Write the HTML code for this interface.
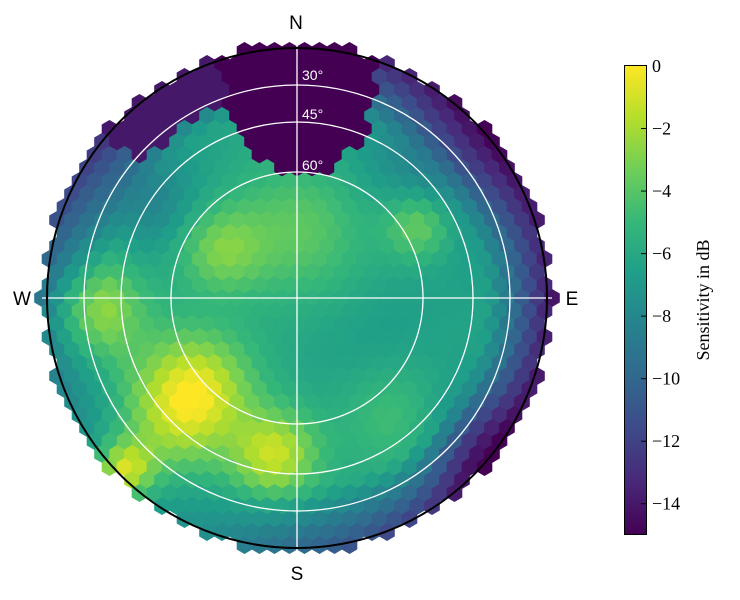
<!DOCTYPE html>
<html><head><meta charset="utf-8"><style>
body{margin:0;background:#fff}
svg{display:block}
</style></head><body>
<svg id="s" width="740" height="600" xmlns="http://www.w3.org/2000/svg">
<defs>
<linearGradient id="vg" x1="0" y1="1" x2="0" y2="0">
<stop offset="0" stop-color="#440154"/><stop offset="0.111" stop-color="#482878"/><stop offset="0.222" stop-color="#3e4989"/><stop offset="0.333" stop-color="#31688e"/><stop offset="0.444" stop-color="#26828e"/><stop offset="0.555" stop-color="#1f9e89"/><stop offset="0.666" stop-color="#35b779"/><stop offset="0.777" stop-color="#6ece58"/><stop offset="0.888" stop-color="#b5de2b"/><stop offset="1" stop-color="#fde725"/>
</linearGradient>
</defs>
<g id="hex"></g>
<g fill="none" stroke="#fff" stroke-width="1.3">
<circle cx="297" cy="298" r="126"/><circle cx="297" cy="298" r="176"/><circle cx="297" cy="298" r="213"/>
<line x1="42" y1="298" x2="552" y2="298"/><line x1="297" y1="44" x2="297" y2="552"/>
</g>
<circle cx="297" cy="298" r="250" fill="none" stroke="#000" stroke-width="2"/>
<g font-family="Liberation Sans, sans-serif" font-size="14" fill="#fff">
<text x="302" y="80">30°</text><text x="302" y="119">45°</text><text x="302" y="170">60°</text>
</g>
<g font-family="Liberation Sans, sans-serif" font-size="19" fill="#000" text-anchor="middle">
<text x="296" y="29">N</text><text x="297" y="580">S</text><text x="22" y="305">W</text><text x="572" y="305">E</text>
</g>
<rect x="624.5" y="65.5" width="22" height="469" fill="url(#vg)" stroke="#000" stroke-width="1"/>
<g id="cb" font-family="Liberation Serif, serif" font-size="18" fill="#000"></g>
<text transform="translate(709,300) rotate(-90)" text-anchor="middle" font-family="Liberation Serif, serif" font-size="18">Sensitivity in dB</text>
</svg>
<script>
var stops=["#440154","#482878","#3e4989","#31688e","#26828e","#1f9e89","#35b779","#6ece58","#b5de2b","#fde725"];
function hx(h){return [parseInt(h.substr(1,2),16),parseInt(h.substr(3,2),16),parseInt(h.substr(5,2),16)];}
function vir(t){t=Math.max(0,Math.min(1,t));var p=t*9,i=Math.min(8,Math.floor(p)),f=p-i,a=hx(stops[i]),b=hx(stops[i+1]);
return "rgb("+a.map(function(v,k){return Math.round(v+(b[k]-v)*f)}).join(",")+")";}
var blobs=[[195,390,40,5.5],[275,455,30,5],[125,470,20,5],[95,310,35,4],[220,250,30,3],[300,230,50,2.5],[420,225,25,3.5],[400,420,40,2],[150,200,35,-2],[460,150,60,-3],[170,430,40,2],[380,340,40,-0.5],[470,440,40,-2.5]];
var rimTab=[[0,1],[45,0.8],[90,1],[135,0.9],[180,0.5],[225,0.05],[250,0.2],[270,0.5],[315,1],[360,1]];
function rimS(d){for(var i=0;i<rimTab.length-1;i++){var a=rimTab[i],b=rimTab[i+1];if(d>=a[0]&&d<=b[0])return a[1]+(b[1]-a[1])*(d-a[0])/(b[0]-a[0]);}return 1;}
function field(x,y){var v=-6.3;blobs.forEach(function(b){var dx=x-b[0],dy=y-b[1];v+=b[3]*Math.exp(-(dx*dx+dy*dy)/(2*b[2]*b[2]));});
var dx=x-297,dy=298-y,r=Math.hypot(dx,dy);var th=Math.atan2(dy,dx)*180/Math.PI;if(th<0)th+=360;
if(r>190)v-=rimS(th)*(r-190)*0.12;
var ex=(x-300)/80,ey=(y-60)/117;if(ex*ex+ey*ey<1)v=-15;
if(th>95&&th<140&&r>205)v=Math.min(v,-14);
return Math.max(-15,Math.min(0,v));}
var g=document.getElementById("hex"),R=8.66,h="";
for(var j=-21;j<=21;j++){var y=298+j*13;var off=(j%2)?7.5:0;
for(var i=-20;i<=20;i++){var x=297+i*15+off;if(Math.hypot(x-297,y-298)>255)continue;
var pts=[];for(var k=0;k<6;k++){var a=Math.PI/6+k*Math.PI/3;pts.push((x+R*Math.cos(a)).toFixed(1)+","+(y+R*Math.sin(a)).toFixed(1));}
var c=vir((field(x,y)+15)/15);
h+='<polygon points="'+pts.join(" ")+'" fill="'+c+'" stroke="'+c+'" stroke-width="0.6"/>';}}
g.innerHTML=h;
var cb=document.getElementById("cb"),s="";
for(var v=0;v>=-14;v-=2){var yy=66+(-v)*469/15;
s+=(v<0?'<line x1="641" y1="'+yy+'" x2="647" y2="'+yy+'" stroke="#000"/>':'')+'<text x="652" y="'+(yy+6)+'">'+(v==0?"0":"\u2212"+(-v))+'</text>';}
cb.innerHTML=s;
</script>
</body></html>
